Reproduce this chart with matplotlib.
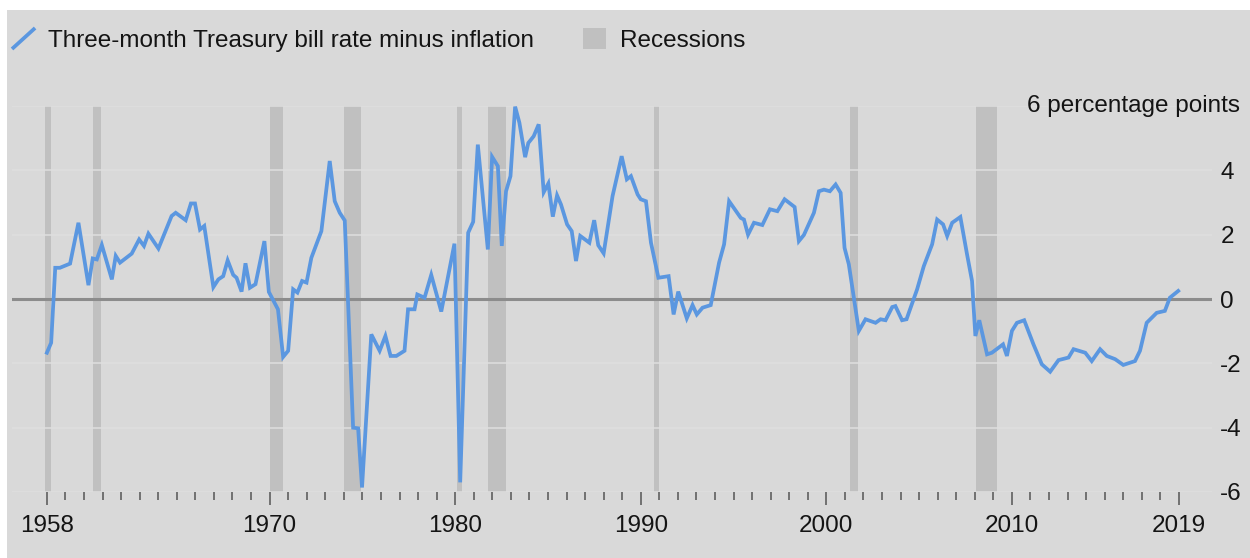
import matplotlib
matplotlib.use("Agg")
import matplotlib.pyplot as plt
from matplotlib.lines import Line2D
from matplotlib.patches import Patch, Rectangle
from matplotlib.legend_handler import HandlerBase
from matplotlib.transforms import offset_copy

years = [1958.0, 1958.23, 1958.45, 1958.7, 1959.25, 1959.7, 1960.24, 1960.47, 1960.69, 1960.96,
         1961.5, 1961.71, 1961.94, 1962.57, 1962.97, 1963.23, 1963.47, 1964.01, 1964.72, 1964.94,
         1965.48, 1965.76, 1965.98, 1966.25, 1966.48, 1966.97, 1967.24, 1967.5, 1967.74, 1968.04,
         1968.22, 1968.49, 1968.7, 1968.94, 1969.24, 1969.72, 1969.96, 1970.45, 1970.73, 1971.0,
         1971.27, 1971.5, 1971.75, 1971.99, 1972.25, 1972.79, 1973.24, 1973.51, 1973.78, 1974.05,
         1974.5, 1974.77, 1974.98, 1975.48, 1975.93, 1976.24, 1976.52, 1976.83, 1977.27, 1977.46,
         1977.81, 1977.96, 1978.35, 1978.71, 1979.25, 1979.96, 1980.27, 1980.7, 1980.97, 1981.22,
         1981.76, 1981.99, 1982.3, 1982.51, 1982.74, 1982.98, 1983.23, 1983.46, 1983.77, 1983.94,
         1984.23, 1984.5, 1984.77, 1985.02, 1985.26, 1985.49, 1985.7, 1986.03, 1986.28, 1986.51,
         1986.74, 1987.23, 1987.49, 1987.71, 1988.0, 1988.48, 1988.97, 1989.25, 1989.47, 1989.83,
         1990.0, 1990.28, 1990.55, 1990.95, 1991.5, 1991.77, 1992.02, 1992.48, 1992.79, 1993.02,
         1993.33, 1993.77, 1994.22, 1994.49, 1994.76, 1995.39, 1995.56, 1995.78, 1996.1, 1996.55,
         1996.96, 1997.36, 1997.75, 1998.29, 1998.52, 1998.79, 1999.33, 1999.6, 1999.87, 2000.19,
         2000.5, 2000.77, 2000.98, 2001.21, 2001.75, 2002.11, 2002.65, 2002.92, 2003.19, 2003.55,
         2003.72, 2004.08, 2004.32, 2004.89, 2005.25, 2005.7, 2005.97, 2006.29, 2006.51, 2006.78,
         2007.22, 2007.58, 2007.85, 2008.03, 2008.24, 2008.66, 2008.92, 2009.52, 2009.73, 2010.0,
         2010.27, 2010.66, 2011.16, 2011.61, 2012.06, 2012.51, 2013.05, 2013.32, 2013.95, 2014.3,
         2014.75, 2015.11, 2015.56, 2016.0, 2016.63, 2016.9, 2017.26, 2017.8, 2018.24, 2018.51,
         2018.96]
real_rate = [-1.67, -1.36, 0.97, 0.97, 1.10, 2.37, 0.43, 1.26, 1.23, 1.68,
             0.61, 1.34, 1.13, 1.41, 1.85, 1.65, 2.03, 1.57, 2.58, 2.68,
             2.45, 2.97, 2.97, 2.16, 2.27, 0.37, 0.61, 0.71, 1.20, 0.75,
             0.66, 0.23, 1.11, 0.35, 0.46, 1.80, 0.22, -0.32, -1.80, -1.61,
             0.30, 0.20, 0.56, 0.51, 1.28, 2.11, 4.29, 3.04, 2.68, 2.44,
             -4.00, -4.02, -5.86, -1.10, -1.61, -1.15, -1.77, -1.77, -1.61, -0.32,
             -0.32, 0.14, 0.04, 0.75, -0.39, 1.72, -5.70, 2.06, 2.40, 4.80,
             1.54, 4.42, 4.13, 1.65, 3.35, 3.82, 5.98, 5.48, 4.41, 4.85,
             5.06, 5.43, 3.32, 3.59, 2.56, 3.22, 2.94, 2.32, 2.11, 1.18,
             1.96, 1.75, 2.45, 1.67, 1.42, 3.20, 4.44, 3.72, 3.82, 3.25,
             3.10, 3.04, 1.75, 0.66, 0.71, -0.48, 0.23, -0.60, -0.19, -0.48,
             -0.27, -0.19, 1.13, 1.70, 3.04, 2.52, 2.47, 2.00, 2.37, 2.30,
             2.79, 2.73, 3.10, 2.86, 1.80, 1.99, 2.68, 3.35, 3.40, 3.35,
             3.56, 3.30, 1.59, 1.08, -0.99, -0.63, -0.74, -0.63, -0.66, -0.25,
             -0.22, -0.66, -0.63, 0.30, 1.02, 1.70, 2.47, 2.32, 1.96, 2.37,
             2.55, 1.39, 0.56, -1.15, -0.66, -1.72, -1.67, -1.41, -1.77, -0.99,
             -0.74, -0.66, -1.41, -2.03, -2.26, -1.90, -1.82, -1.56, -1.67, -1.93,
             -1.56, -1.77, -1.87, -2.05, -1.93, -1.61, -0.74, -0.43, -0.37, 0.04,
             0.25]

rec_start = [1957.9, 1960.47, 1970.0, 1974.0, 1980.1, 1981.76, 1990.7, 2001.28, 2008.05]
rec_end = [1958.2, 1960.9, 1970.7, 1974.9, 1980.37, 1982.73, 1990.96, 2001.7, 2009.2]

major_years = [1958, 1970, 1980, 1990, 2000, 2010, 2019]
y_ticks = [-6, -4, -2, 0, 2, 4, 6]
y_labels = ['-6', '-4', '-2', '0', '2', '4', '']

BG = '#d9d9d9'
BLUE = '#5b97e0'
REC = '#c0c0c0'
TXT = '#141414'
FS = 17.5

plt.rcParams['font.family'] = ['Liberation Sans', 'DejaVu Sans']

W, H = 1250, 558
fig = plt.figure(figsize=(W / 100, H / 100), dpi=100, facecolor='white')
fig.patches.append(Rectangle((7 / W, 0), 1, 1 - 10 / H, transform=fig.transFigure,
                             facecolor=BG, edgecolor='none', zorder=-10))

ax = fig.add_axes([12 / W, 1 - 492 / H, 1200 / W, 386 / H])
ax.patch.set_alpha(0)
for s in ax.spines.values():
    s.set_visible(False)

ax.set_xlim(1956.12, 2020.78)
ax.set_ylim(-6, 6)

for a, b in zip(rec_start, rec_end):
    ax.axvspan(a, b, color=REC, lw=0, zorder=0)

for v in y_ticks:
    if v != 0:
        ax.axhline(v, color='#dfdfdf', lw=1.1, zorder=0.5)
ax.axhline(0, color='#8c8c8c', lw=2.2, zorder=2)

ax.plot(years, real_rate, color=BLUE, lw=2.7, solid_joinstyle='miter', zorder=3)

# x axis
ax.set_xticks(major_years)
ax.set_xticks(list(range(1958, 2020)), minor=True)
ax.set_xticklabels([str(y) for y in major_years])
ax.tick_params(axis='x', which='major', length=9.5, width=1.1, color='#555555',
               pad=7, labelsize=FS, labelcolor=TXT)
ax.tick_params(axis='x', which='minor', length=5.8, width=1.1, color='#555555')

# y axis on the right
ax.yaxis.tick_right()
ax.set_yticks(y_ticks)
ax.set_yticklabels(y_labels)
ax.tick_params(axis='y', length=0, pad=6, labelsize=FS, labelcolor=TXT)
ax.text(1, 6, '6 percentage points', ha='right', va='center', fontsize=FS, color=TXT,
        transform=offset_copy(ax.get_yaxis_transform(), fig=fig, x=28, y=0, units='dots'))


class DiagonalHandler(HandlerBase):
    def create_artists(self, legend, orig_handle, xdescent, ydescent, width, height,
                       fontsize, trans):
        ln = Line2D([-xdescent, -xdescent + width], [-ydescent, -ydescent + height],
                    color=orig_handle.get_color(), lw=orig_handle.get_linewidth(),
                    transform=trans, solid_capstyle='butt')
        return [ln]


h_line = Line2D([], [], color=BLUE, lw=2.7)
h_rec = Patch(facecolor=REC, edgecolor='none')
fig.legend([h_line, h_rec],
           ['Three-month Treasury bill rate minus inflation', 'Recessions'],
           handler_map={Line2D: DiagonalHandler()},
           loc='upper left', bbox_to_anchor=(12 / W, 1 - 28 / H), ncol=2,
           frameon=False, fontsize=FS, labelcolor=TXT, borderpad=0, borderaxespad=0,
           handlelength=0.95, handleheight=0.95, handletextpad=0.55, columnspacing=2.0)

fig.savefig('out.png', dpi=100, facecolor=fig.get_facecolor())
